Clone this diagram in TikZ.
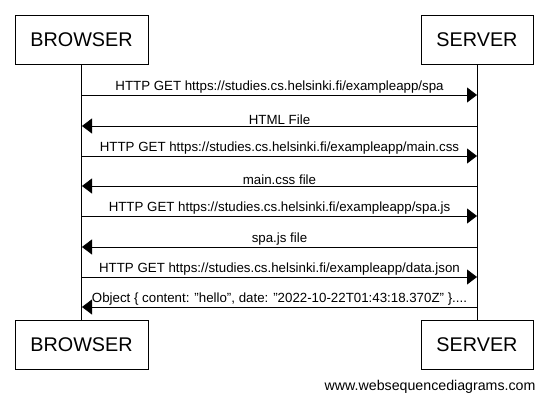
\documentclass[tikz,border=0pt]{standalone}
\usepackage{fontspec}
\setmainfont{Liberation Sans}
\usetikzlibrary{arrows.meta}

\tikzset{
  actor/.style={draw, line width=0.8pt, minimum width=133pt, minimum height=49pt,
                inner sep=0pt, font=\fontsize{19.8}{20}\selectfont},
  srvactor/.style={actor, minimum width=112pt},
  msg/.style={line width=0.8pt, -{Triangle[length=10pt,width=15pt]}},
  msglabel/.style={above, inner sep=1pt, font=\fontsize{13.3}{14}\selectfont},
}

\begin{document}
\begin{tikzpicture}[x=1pt, y=-1pt]
            \useasboundingbox (0, 0) rectangle (547, 403);

            \node [actor]    (browsertop) at (81.5, 39.5)  {BROWSER};
            \node [srvactor] (servertop)  at (477, 39.5)   {SERVER};
            \node [actor]    (browserbot) at (81.5, 345)   {BROWSER};
            \node [srvactor] (serverbot)  at (477, 345)    {SERVER};

            \draw [line width=0.8pt] (browsertop.south) -- (browserbot.north);
            \draw [line width=0.8pt] (servertop.south)  -- (serverbot.north);

            \coordinate (b1) at (82, 95);   \coordinate (s1) at (477, 95);
            \coordinate (b2) at (82, 126);  \coordinate (s2) at (477, 126);
            \coordinate (b3) at (82, 156);  \coordinate (s3) at (477, 156);
            \coordinate (b4) at (82, 186);  \coordinate (s4) at (477, 186);
            \coordinate (b5) at (82, 216);  \coordinate (s5) at (477, 216);
            \coordinate (b6) at (82, 247);  \coordinate (s6) at (477, 247);
            \coordinate (b7) at (82, 277);  \coordinate (s7) at (477, 277);
            \coordinate (b8) at (82, 307);  \coordinate (s8) at (477, 307);

            \draw [msg] (b1) -- node [msglabel] {HTTP GET https://studies.cs.helsinki.fi/exampleapp/spa} (s1);
            \draw [msg] (s2) -- node [msglabel] {HTML File} (b2);
            \draw [msg] (b3) -- node [msglabel] {HTTP GET https://studies.cs.helsinki.fi/exampleapp/main.css} (s3);
            \draw [msg] (s4) -- node [msglabel] {main.css file} (b4);
            \draw [msg] (b5) -- node [msglabel] {HTTP GET https://studies.cs.helsinki.fi/exampleapp/spa.js} (s5);
            \draw [msg] (s6) -- node [msglabel] {spa.js file} (b6);
            \draw [msg] (b7) -- node [msglabel] {HTTP GET https://studies.cs.helsinki.fi/exampleapp/data.json} (s7);
            \draw [msg] (s8) -- node [msglabel] {Object \{ content: "hello", date: "2022-10-22T01:43:18.370Z" \}....} (b8);

            \node [anchor=east, font=\fontsize{14.2}{15}\selectfont] (credit) at (539, 387) {www.websequencediagrams.com};
          \end{tikzpicture}
\end{document}
